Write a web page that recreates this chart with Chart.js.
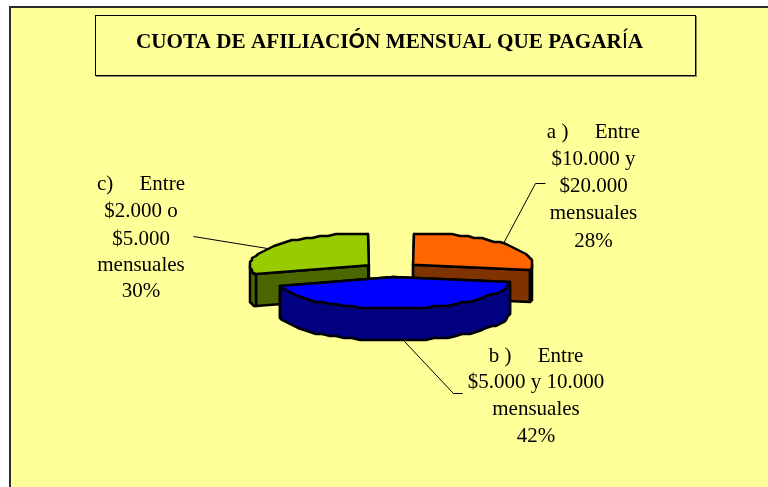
<!DOCTYPE html>
<html><head><meta charset="utf-8">
<style>html,body{margin:0;padding:0;background:#fff}canvas{display:block}</style>
<script src="https://cdn.jsdelivr.net/npm/chart.js@4"></script>
</head><body><canvas id="c" width="768" height="487"></canvas>
<script>
const categories = ["a) Entre $10.000 y $20.000 mensuales","b) Entre $5.000 y 10.000 mensuales","c) Entre $2.000 o $5.000 mensuales"];
const shares = [28,42,30];
const topColors = ["#FF6600","#0000FF","#99CC00"];
const sideColors = ["#7F3300","#000080","#4C6600"];
const labelLinesA = ["a )     Entre","$10.000 y","$20.000","mensuales","28%"];
const labelLinesB = ["b )     Entre","$5.000 y 10.000","mensuales","42%"];
const labelLinesC = ["c)     Entre","$2.000 o","$5.000","mensuales","30%"];
const titleParts = [["CUOTA DE AFILIACI","S"],["Ó","A"],["N MENSUAL QUE PAGAR","S"],["Í","N"],["A","S"]];

const SQUASH = 0.265, DEPTH = 32, GRID = 2;
const BG = "#FFFF99";

function snap(v){return Math.round(v/GRID)*GRID;}
const pie3d = {
  id:"pie3d",
  beforeDraw(chart){
    const c = chart.ctx;
    c.save();
    c.fillStyle="#fff"; c.fillRect(0,0,768,487);
    c.fillStyle=BG; c.fillRect(10,7,758,480);
    c.fillStyle="#2b2b2b"; c.fillRect(9,6,759,2); c.fillRect(9,6,2,481);
    c.fillStyle="#8a8a5c"; c.fillRect(96,76,600,1); c.fillRect(696,16,1,61);
    c.strokeStyle="#000"; c.lineWidth=1; c.strokeRect(95.5,15.5,600,60);
    c.restore();
  },
  beforeDatasetDraw(chart){
    const c = chart.ctx, arcs = chart.getDatasetMeta(0).data;
    const order = [2,0,1];
    c.save();
    c.lineJoin="round"; c.lineCap="round"; c.strokeStyle="#000"; c.lineWidth=2.5;
    for(const i of order){
      const a = arcs[i], p = a.getProps(["x","y","startAngle","endAngle","outerRadius"],true);
      const mid=(p.startAngle+p.endAngle)/2, d=(a.options.offset||0)/2;
      const ax=p.x+d*Math.cos(mid), ay=p.y+SQUASH*d*Math.sin(mid), r=p.outerRadius;
      const pt=t=>[snap(ax+r*Math.cos(t)), snap(ay+SQUASH*r*Math.sin(t))];
      const rim=(s,e)=>{const n=Math.max(1,Math.ceil((e-s)/(Math.PI/45)));const o=[];for(let k=0;k<=n;k++)o.push(pt(s+(e-s)*k/n));return o;};
      const poly=(pts,fill)=>{c.beginPath();pts.forEach((q,k)=>k?c.lineTo(q[0],q[1]):c.moveTo(q[0],q[1]));c.closePath();c.fillStyle=fill;c.fill();c.stroke();};
      const down=q=>[q[0],q[1]+DEPTH];
      const s=p.startAngle,e=p.endAngle,apex=[ax,ay];
      for(const t of [s,e]){const q=pt(t);poly([apex,q,down(q),down(apex)],sideColors[i]);}
      const norm=[[ -2*Math.PI,-Math.PI],[0,Math.PI],[2*Math.PI,3*Math.PI]];
      for(const [lo,hi] of norm){
        const ws=Math.max(s,lo),we=Math.min(e,hi);
        if(we>ws){const top=rim(ws,we);poly(top.concat(top.slice().reverse().map(down)),sideColors[i]);}
      }
      poly([apex].concat(rim(s,e)),topColors[i]);
    }
    c.restore();
    return false;
  },
  afterDraw(chart){
    const c = chart.ctx;
    c.save();
    c.strokeStyle="#000"; c.lineWidth=1;
    for(const l of [[[503,243],[535,183],[545,183]],[[404,341],[453,393],[462,393]],[[193,236],[267,248]]]){
      c.beginPath();l.forEach((q,k)=>k?c.lineTo(q[0]+.5,q[1]+.5):c.moveTo(q[0]+.5,q[1]+.5));c.stroke();
    }
    c.fillStyle="#000"; c.textAlign="center"; c.textBaseline="alphabetic";
    c.font='21px "Liberation Serif"';
    const block=(lines,x,ys)=>lines.forEach((t,k)=>c.fillText(t,x,ys[k]));
    block(labelLinesA,593.5,[138,165,192,219,247]);
    block(labelLinesB,536,[362,388,415,442]);
    block(labelLinesC,141,[190,217,245,271,297]);
    const fonts={S:'bold 21.2px "Liberation Serif"',A:'bold 21.2px "Liberation Sans"',N:'21.2px "Liberation Sans"'};
    c.textAlign="left";
    let w=0; titleParts.forEach(([t,f])=>{c.font=fonts[f];w+=c.measureText(t).width;});
    let x=389.5-w/2;
    titleParts.forEach(([t,f])=>{c.font=fonts[f];c.fillText(t,x,48);x+=c.measureText(t).width;});
    c.restore();
  }
};
new Chart(document.getElementById("c"),{
  type:"pie",
  data:{labels:categories,datasets:[{data:shares,backgroundColor:topColors,borderWidth:0,offset:56}]},
  options:{
    responsive:false,animation:false,
    layout:{padding:{left:244,right:229,top:122,bottom:70}},
    plugins:{legend:{display:false},tooltip:{enabled:false},title:{display:false}}
  },
  plugins:[pie3d]
});
</script></body></html>
